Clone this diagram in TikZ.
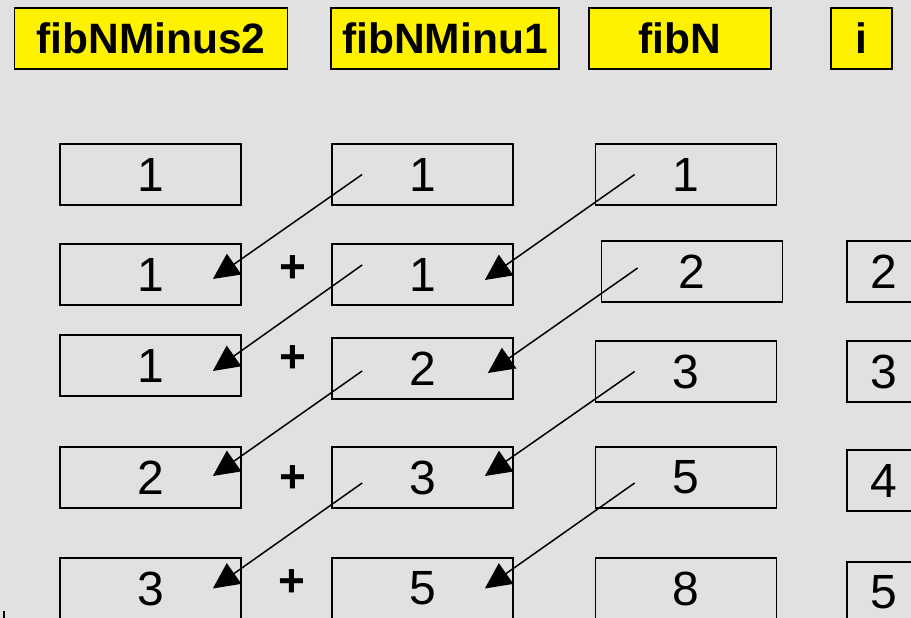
\documentclass[tikz,border=0pt]{standalone}
\usepackage{fontspec}
\setmainfont{Liberation Sans}
\usetikzlibrary{arrows.meta}
\definecolor{bggray}{RGB}{225,225,225}

\begin{document}
\begin{tikzpicture}[x=1pt,y=-1pt,
    hdr/.style={draw, line width=1.8pt, fill=yellow, inner sep=0pt, minimum height=61pt,
      font=\fontsize{42.5}{42.5}\selectfont\bfseries},
    val/.style={draw, line width=1.7pt, inner sep=0pt, minimum width=181pt, minimum height=61pt,
      font=\fontsize{48}{48}\selectfont},
    plus/.style={inner sep=0pt, font=\fontsize{46}{46}\selectfont\bfseries},
    link/.style={line width=1.5pt, -{Triangle[length=26pt,width=25pt]}}]
  \useasboundingbox (0,0) rectangle (911,618);
  \clip (0,0) rectangle (911,618);
  \fill[bggray] (0,0) rectangle (911,618);

  % variable names
  \node[hdr, minimum width=273pt] (hA) at (151,38.5) {fibNMinus2};
  \node[hdr, minimum width=228pt] (hB) at (445,38.5) {fibNMinu1};
  \node[hdr, minimum width=182pt] (hC) at (680,38.5) {fibN};
  \node[hdr, minimum width=61pt]  (hD) at (861.5,38.5) {i};

  % values
  \foreach \n/\x/\y/\v in {c1r1/150.5/174.5/1, c1r2/150.5/274.5/1, c1r3/150.5/365.5/1,
                           c1r4/150.5/477.5/2, c1r5/150.5/588.5/3,
                           c2r1/422.5/174.5/1, c2r2/422.5/274.5/1, c2r3/422.5/368.5/2,
                           c2r4/422.5/477.5/3, c2r5/422.5/588.5/5,
                           c3r1/686/174.5/1, c3r2/692/271.5/2, c3r3/686/371.5/3,
                           c3r4/686/477.5/5, c3r5/686/588.5/8}
    \node[val] (\n) at (\x,\y) {\v};
  \foreach \n/\y/\v in {c4r2/271.5/2, c4r3/371.5/3, c4r4/480.5/4, c4r5/592.5/5}
    \node[val, minimum width=73pt] (\n) at (883.5,\y) {\v};

  \foreach \n/\x/\y in {p2/293/269, p3/293/359, p4/293/479, p5/292/583}
    \node[plus] (\n) at (\x,\y) {+};

  \foreach \from/\fx/\fy/\to/\tx/\ty in {c2r1/31/0/c1r2/-29/4.5, c3r1/40/0/c2r2/-29/5.5,
                                         c2r2/31/-9.5/c1r3/-29/5.5, c3r2/37/-3.5/c2r3/-26/4.5,
                                         c2r3/31/2.5/c1r4/-29/-1.5, c3r3/40/0/c2r4/-29/-1.5,
                                         c2r4/31/5.5/c1r5/-29/0, c3r4/40/5.5/c2r5/-29/0}
    \draw[link] ([shift={(\fx,\fy)}]\from.west) -- ([shift={(\tx,\ty)}]\to.east);

  \draw[line width=1.5pt] (4,611) -- (4,618);
\end{tikzpicture}
\end{document}
